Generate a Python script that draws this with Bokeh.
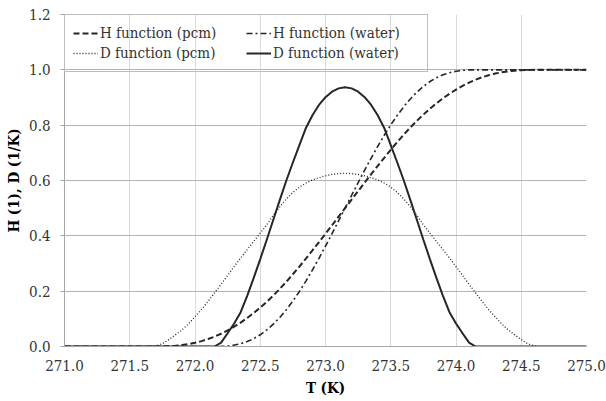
from bokeh.plotting import figure
from bokeh.models import Range1d, Legend, LegendItem, FixedTicker, NumeralTickFormatter
from bokeh.embed import file_html
from bokeh.resources import INLINE

T = [271.00, 271.05, 271.10, 271.15, 271.20, 271.25, 271.30, 271.35, 271.40, 271.45,
     271.50, 271.55, 271.60, 271.65, 271.70, 271.75, 271.80, 271.85, 271.90, 271.95,
     272.00, 272.05, 272.10, 272.15, 272.20, 272.25, 272.30, 272.35, 272.40, 272.45,
     272.50, 272.55, 272.60, 272.65, 272.70, 272.75, 272.80, 272.85, 272.90, 272.95,
     273.00, 273.05, 273.10, 273.15, 273.20, 273.25, 273.30, 273.35, 273.40, 273.45,
     273.50, 273.55, 273.60, 273.65, 273.70, 273.75, 273.80, 273.85, 273.90, 273.95,
     274.00, 274.05, 274.10, 274.15, 274.20, 274.25, 274.30, 274.35, 274.40, 274.45,
     274.50, 274.55, 274.60, 274.65, 274.70, 274.75, 274.80, 274.85, 274.90, 274.95,
     275.00]

H_pcm = [0, 0, 0, 0, 0, 0, 0, 0, 0, 0,
         0, 0, 0, 0, 0.0000, 0.0003, 0.0012, 0.0029, 0.0053, 0.0089,
         0.0135, 0.0195, 0.0269, 0.0357, 0.0461, 0.0579, 0.0715, 0.0865, 0.1031, 0.1211,
         0.1407, 0.1616, 0.1843, 0.2085, 0.2341, 0.2611, 0.2890, 0.3179, 0.3474, 0.3773,
         0.4077, 0.4382, 0.4691, 0.5000, 0.5309, 0.5618, 0.5923, 0.6227, 0.6526, 0.6821,
         0.7110, 0.7389, 0.7659, 0.7915, 0.8157, 0.8384, 0.8593, 0.8789, 0.8969, 0.9135,
         0.9285, 0.9421, 0.9539, 0.9643, 0.9731, 0.9805, 0.9865, 0.9911, 0.9947, 0.9971,
         0.9988, 0.9997, 1.0, 1.0, 1.0, 1.0, 1.0, 1.0, 1.0, 1.0,
         1.0]

H_water = [0, 0, 0, 0, 0, 0, 0, 0, 0, 0,
           0, 0, 0, 0, 0, 0, 0, 0, 0, 0,
           0, 0, 0, 0, 0.0003, 0.0019, 0.0051, 0.0103, 0.0178, 0.0285,
           0.0424, 0.0599, 0.0807, 0.1052, 0.1331, 0.1644, 0.1989, 0.2364, 0.2767, 0.3189,
           0.3628, 0.4079, 0.4537, 0.5000, 0.5463, 0.5921, 0.6372, 0.6811, 0.7233, 0.7636,
           0.8011, 0.8356, 0.8669, 0.8948, 0.9193, 0.9401, 0.9576, 0.9715, 0.9822, 0.9897,
           0.9949, 0.9981, 0.9997, 1.0, 1.0, 1.0, 1.0, 1.0, 1.0, 1.0,
           1.0, 1.0, 1.0, 1.0, 1.0, 1.0, 1.0, 1.0, 1.0, 1.0,
           1.0]

D_pcm = [0, 0, 0, 0, 0, 0, 0, 0, 0, 0,
         0, 0, 0, 0, 0.002, 0.010, 0.025, 0.042, 0.060, 0.082,
         0.107, 0.134, 0.163, 0.194, 0.225, 0.257, 0.289, 0.320, 0.350, 0.380,
         0.410, 0.440, 0.474, 0.505, 0.533, 0.557, 0.576, 0.591, 0.602, 0.610,
         0.617, 0.622, 0.625, 0.626, 0.625, 0.622, 0.617, 0.610, 0.602, 0.591,
         0.576, 0.557, 0.533, 0.505, 0.474, 0.440, 0.410, 0.380, 0.350, 0.320,
         0.289, 0.257, 0.225, 0.194, 0.163, 0.134, 0.107, 0.082, 0.060, 0.042,
         0.025, 0.010, 0.002, 0, 0, 0, 0, 0, 0, 0,
         0]

D_water = [0, 0, 0, 0, 0, 0, 0, 0, 0, 0,
           0, 0, 0, 0, 0, 0, 0, 0, 0, 0,
           0, 0, 0, 0, 0.014, 0.048, 0.083, 0.124, 0.183, 0.248,
           0.316, 0.386, 0.458, 0.530, 0.600, 0.665, 0.728, 0.790, 0.836, 0.873,
           0.901, 0.921, 0.933, 0.937, 0.933, 0.921, 0.901, 0.873, 0.836, 0.790,
           0.728, 0.665, 0.600, 0.530, 0.458, 0.386, 0.316, 0.248, 0.183, 0.124,
           0.083, 0.048, 0.014, 0, 0, 0, 0, 0, 0, 0,
           0, 0, 0, 0, 0, 0, 0, 0, 0, 0,
           0]

x_ticks = [271.0, 271.5, 272.0, 272.5, 273.0, 273.5, 274.0, 274.5, 275.0]
y_ticks = [0.0, 0.2, 0.4, 0.6, 0.8, 1.0, 1.2]
labels = ["H function (pcm)", "H function (water)", "D function (pcm)", "D function (water)"]

FONT = "DejaVu Serif Condensed, DejaVu Serif"
INK = "#262626"

p = figure(width=606, height=401, output_backend="svg", toolbar_location=None,
           x_range=Range1d(271.0, 275.0), y_range=Range1d(0.0, 1.2),
           min_border_left=64, min_border_right=20, min_border_top=14, min_border_bottom=55)
p.outline_line_color = None
p.background_fill_color = "white"
p.border_fill_color = "white"

p.xaxis.ticker = FixedTicker(ticks=x_ticks)
p.yaxis.ticker = FixedTicker(ticks=y_ticks)
p.xaxis.formatter = NumeralTickFormatter(format="0.0")
p.yaxis.formatter = NumeralTickFormatter(format="0.0")

p.xgrid.grid_line_color = "#d9d9d9"
p.ygrid.grid_line_color = "#b3b3b3"

p.xaxis.axis_line_color = "#a6a6a6"
p.yaxis.axis_line_color = "#a6a6a6"
p.xaxis.major_tick_line_color = "#a6a6a6"
p.yaxis.major_tick_line_color = "#a6a6a6"
p.xaxis.minor_tick_line_color = None
p.yaxis.minor_tick_line_color = None
p.xaxis.major_tick_in = 0
p.yaxis.major_tick_in = 0

p.xaxis.major_label_text_font = FONT
p.xaxis.axis_label_text_font = FONT
p.yaxis.major_label_text_font = FONT
p.yaxis.axis_label_text_font = FONT

p.xaxis.major_label_text_font_size = "15px"
p.yaxis.major_label_text_font_size = "15px"
p.xaxis.major_label_text_color = "#333333"
p.yaxis.major_label_text_color = "#333333"
p.xaxis.axis_label_text_font_size = "15px"
p.yaxis.axis_label_text_font_size = "15px"
p.xaxis.axis_label_text_font_style = "bold"
p.yaxis.axis_label_text_font_style = "bold"
p.xaxis.axis_label_text_color = "#000000"
p.yaxis.axis_label_text_color = "#000000"

p.xaxis.major_tick_out = 0
p.xaxis.major_label_standoff = 13
p.xaxis.axis_label = "T (K)"
p.xaxis.axis_label_standoff = 5
p.yaxis.major_tick_out = 4
p.yaxis.major_label_standoff = 10
p.yaxis.axis_label = "H (1), D (1/K)"
p.yaxis.axis_label_standoff = 3

r_hp = p.line(T, H_pcm, line_color=INK, line_width=2, line_dash="6 3")
r_hw = p.line(T, H_water, line_color=INK, line_width=1.6, line_dash="6 3 2 3")
r_dp = p.line(T, D_pcm, line_color=INK, line_width=1.3, line_dash="1 2")
r_dw = p.line(T, D_water, line_color=INK, line_width=2)

legend = Legend(items=[LegendItem(label=labels[0], renderers=[r_hp]),
                       LegendItem(label=labels[2], renderers=[r_dp]),
                       LegendItem(label=labels[1], renderers=[r_hw]),
                       LegendItem(label=labels[3], renderers=[r_dw])],
                location="top_left", ncols=2, margin=0, padding=8, spacing=0,
                glyph_width=25, glyph_height=20, label_height=20, label_standoff=2,
                label_width=146,
                label_text_font=FONT, label_text_font_size="15px", label_text_color="#333333",
                border_line_color="#bdbdbd", border_line_width=1, border_line_alpha=1.0,
                background_fill_alpha=0.0)
p.add_layout(legend, "center")

open("out.html", "w").write(file_html(p, INLINE))
